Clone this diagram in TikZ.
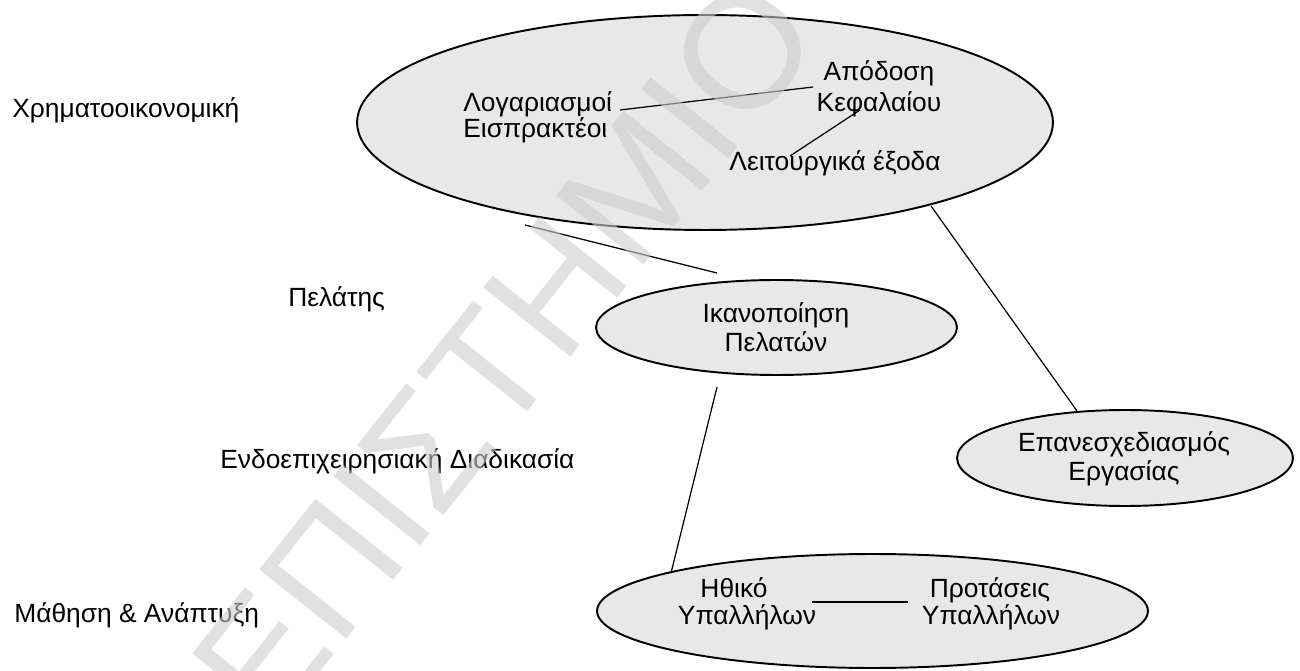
\documentclass[tikz,border=0pt]{standalone}
\usepackage{fontspec}
\setmainfont{Liberation Sans}
\usetikzlibrary{shapes.geometric}
\definecolor{bubblefill}{RGB}{232,232,232}
\definecolor{markgray}{RGB}{205,205,205}
\newcommand{\labelfont}[1]{\fontsize{15}{#1}\selectfont}
\begin{document}
\begin{tikzpicture}[x=0.02cm,y=-0.02cm,
  bubble/.style={ellipse, draw=black, line width=1.1pt, fill=bubblefill, inner sep=0pt},
  txt/.style={font=\labelfont{16.5}, inner sep=0pt, align=center},
  link/.style={draw=black, line width=0.7pt}]
\useasboundingbox (0,0) rectangle (1300,671);

% perspective labels on the left
\node[txt, anchor=west] (fin)  at (12,110)  {Χρηματοοικονομική};
\node[txt, anchor=west] (cust) at (288,299) {Πελάτης};
\node[txt, anchor=west] (proc) at (220,461) {Ενδοεπιχειρησιακή Διαδικασία};
\node[txt, anchor=west] (lrn)  at (14,615)  {Μάθηση \& Ανάπτυξη};

% ellipses
\node[bubble, minimum width=13.92cm, minimum height=4.30cm] (big) at (705,122.5) {};
\node[bubble, minimum width=7.22cm, minimum height=1.90cm] (sat) at (776.5,327.5) {};
\node[bubble, minimum width=6.72cm, minimum height=1.92cm] (redes) at (1125,458) {};
\node[bubble, minimum width=11.02cm, minimum height=2.28cm] (emp) at (872.5,611) {};

% texts inside the ellipses
\node[txt] (satT)   at (776,327) {Ικανοποίηση\\Πελατών};
\node[txt] (redesT) at (1124,459) {Επανεσχεδιασμός\\Εργασίας};

% financial items
\node[txt, anchor=west, align=left, font=\labelfont{14.7}] (acc) at (463,117) {Λογαριασμοί\\Εισπρακτέοι};
\node[txt, anchor=base] (ret1) at (879,81)  {Απόδοση};
\node[txt, anchor=base] (ret2) at (879,112) {Κεφαλαίου};
\node[txt] (opex) at (835,163) {Λειτουργικά έξοδα};

% employee items
\node[txt, anchor=base] (moral1) at (734,597) {Ηθικό};
\node[txt, anchor=base] (moral2) at (747,624) {Υπαλλήλων};
\node[txt, anchor=base] (sugg1)  at (990,597) {Προτάσεις};
\node[txt, anchor=base] (sugg2)  at (991,624) {Υπαλλήλων};

% connector end points
\coordinate (a1) at (620,110);  \coordinate (a2) at (813,87);
\coordinate (b1) at (860,110);  \coordinate (b2) at (790,156);
\coordinate (c1) at (525,225);  \coordinate (c2) at (717,273);
\coordinate (d1) at (931,206);  \coordinate (d2) at (1077,411);
\coordinate (e1) at (717,387);  \coordinate (e2) at (671,573);
\coordinate (f1) at (812,602);  \coordinate (f2) at (908,602);

\draw[link] (a1) -- (a2);
\draw[link] (b1) -- (b2);
\draw[link] (c1) -- (c2);
\draw[link] (d1) -- (d2);
\draw[link] (e1) -- (e2);
\draw[link] (f1) -- (f2);

% watermark across the page
\begin{scope}
  \clip (0,0) rectangle (1300,671);
  \node[rotate=51.5, anchor=east, inner sep=0pt, text=markgray, text opacity=0.6,
        font=\fontsize{92}{92}\selectfont] (mark) at (782,2) {ΕΠΙΣΤΗΜΙΟ};
\end{scope}
\end{tikzpicture}
\end{document}
